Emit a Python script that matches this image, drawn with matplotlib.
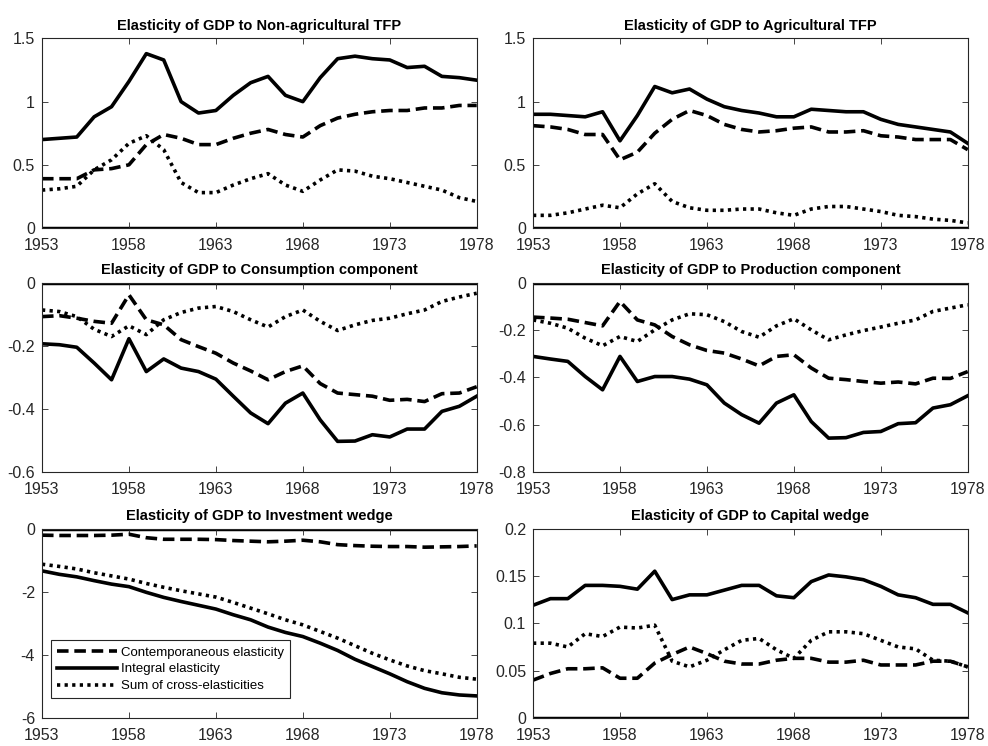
import matplotlib
matplotlib.use("Agg")
import matplotlib.pyplot as plt

plt.rcParams['font.family'] = ['Liberation Sans', 'DejaVu Sans']

years = list(range(1953, 1979))

# Elasticity of GDP to Non-agricultural TFP
nonag_contemp = [0.39, 0.39, 0.39, 0.46, 0.47, 0.50, 0.66, 0.74, 0.71, 0.66, 0.66, 0.71, 0.75,
                 0.78, 0.74, 0.72, 0.81, 0.87, 0.90, 0.92, 0.93, 0.93, 0.95, 0.95, 0.97, 0.97]
nonag_integral = [0.70, 0.71, 0.72, 0.88, 0.96, 1.16, 1.38, 1.33, 1.00, 0.91, 0.93, 1.05, 1.15,
                  1.20, 1.05, 1.00, 1.19, 1.34, 1.36, 1.34, 1.33, 1.27, 1.28, 1.20, 1.19, 1.17]
nonag_cross = [0.30, 0.31, 0.33, 0.46, 0.54, 0.67, 0.73, 0.62, 0.36, 0.28, 0.28, 0.34, 0.39,
               0.43, 0.34, 0.29, 0.38, 0.46, 0.45, 0.41, 0.39, 0.36, 0.33, 0.30, 0.24, 0.21]

# Elasticity of GDP to Agricultural TFP
ag_contemp = [0.81, 0.80, 0.78, 0.74, 0.74, 0.54, 0.60, 0.75, 0.86, 0.93, 0.89, 0.82, 0.78,
              0.76, 0.77, 0.79, 0.80, 0.76, 0.76, 0.77, 0.73, 0.72, 0.70, 0.70, 0.70, 0.62]
ag_integral = [0.90, 0.90, 0.89, 0.88, 0.92, 0.69, 0.89, 1.12, 1.07, 1.10, 1.02, 0.96, 0.93,
               0.91, 0.88, 0.88, 0.94, 0.93, 0.92, 0.92, 0.86, 0.82, 0.80, 0.78, 0.76, 0.67]
ag_cross = [0.10, 0.10, 0.12, 0.15, 0.18, 0.16, 0.27, 0.35, 0.21, 0.16, 0.14, 0.14, 0.15,
            0.15, 0.12, 0.10, 0.15, 0.17, 0.17, 0.15, 0.13, 0.10, 0.09, 0.07, 0.06, 0.04]

# Elasticity of GDP to Consumption component
cons_contemp = [-0.108, -0.105, -0.113, -0.123, -0.129, -0.039, -0.118, -0.134, -0.181, -0.203,
                -0.224, -0.255, -0.280, -0.308, -0.282, -0.264, -0.320, -0.350, -0.355, -0.360,
                -0.373, -0.370, -0.377, -0.352, -0.350, -0.330]
cons_integral = [-0.194, -0.197, -0.205, -0.255, -0.308, -0.178, -0.282, -0.242, -0.271, -0.282,
                 -0.306, -0.360, -0.413, -0.447, -0.382, -0.350, -0.435, -0.503, -0.502, -0.482,
                 -0.489, -0.464, -0.464, -0.408, -0.392, -0.360]
cons_cross = [-0.087, -0.092, -0.108, -0.148, -0.171, -0.137, -0.165, -0.118, -0.095, -0.081,
              -0.076, -0.092, -0.118, -0.141, -0.108, -0.087, -0.123, -0.152, -0.134, -0.120,
              -0.113, -0.099, -0.087, -0.060, -0.046, -0.034]

# Elasticity of GDP to Production component
prod_contemp = [-0.146, -0.150, -0.155, -0.169, -0.183, -0.080, -0.158, -0.179, -0.228, -0.263,
                -0.287, -0.298, -0.323, -0.352, -0.312, -0.305, -0.361, -0.404, -0.410, -0.418,
                -0.425, -0.420, -0.428, -0.404, -0.405, -0.376]
prod_integral = [-0.312, -0.323, -0.333, -0.397, -0.453, -0.312, -0.418, -0.397, -0.397, -0.408,
                 -0.432, -0.509, -0.558, -0.594, -0.509, -0.474, -0.587, -0.657, -0.655, -0.633,
                 -0.629, -0.596, -0.592, -0.530, -0.516, -0.478]
prod_cross = [-0.158, -0.172, -0.193, -0.235, -0.267, -0.228, -0.249, -0.200, -0.158, -0.132,
              -0.136, -0.165, -0.207, -0.231, -0.183, -0.153, -0.200, -0.242, -0.221, -0.203,
              -0.188, -0.172, -0.158, -0.122, -0.108, -0.094]

# Elasticity of GDP to Investment wedge
inv_contemp = [-0.21, -0.22, -0.22, -0.22, -0.21, -0.18, -0.29, -0.34, -0.34, -0.34, -0.35,
               -0.38, -0.40, -0.42, -0.40, -0.37, -0.42, -0.51, -0.54, -0.56, -0.57, -0.57,
               -0.59, -0.58, -0.57, -0.55]
inv_integral = [-1.34, -1.45, -1.53, -1.65, -1.76, -1.84, -2.02, -2.18, -2.31, -2.43, -2.55,
                -2.73, -2.89, -3.12, -3.29, -3.42, -3.63, -3.86, -4.14, -4.37, -4.60, -4.85,
                -5.06, -5.20, -5.27, -5.30]
inv_cross = [-1.13, -1.20, -1.28, -1.40, -1.50, -1.60, -1.74, -1.86, -1.97, -2.07, -2.17,
             -2.34, -2.52, -2.70, -2.89, -3.05, -3.26, -3.47, -3.71, -3.95, -4.16, -4.35,
             -4.50, -4.60, -4.71, -4.77]

# Elasticity of GDP to Capital wedge
cap_contemp = [0.040, 0.047, 0.052, 0.052, 0.053, 0.042, 0.042, 0.058, 0.067, 0.075, 0.068,
               0.060, 0.057, 0.057, 0.061, 0.063, 0.063, 0.059, 0.059, 0.061, 0.056, 0.056,
               0.056, 0.060, 0.060, 0.054]
cap_integral = [0.119, 0.126, 0.126, 0.140, 0.140, 0.139, 0.136, 0.155, 0.125, 0.130, 0.130,
                0.135, 0.140, 0.140, 0.129, 0.127, 0.144, 0.151, 0.149, 0.146, 0.139, 0.130,
                0.127, 0.120, 0.120, 0.111]
cap_cross = [0.079, 0.079, 0.075, 0.089, 0.086, 0.096, 0.095, 0.098, 0.060, 0.054, 0.061,
             0.072, 0.082, 0.084, 0.072, 0.063, 0.082, 0.091, 0.091, 0.089, 0.082, 0.075,
             0.073, 0.061, 0.060, 0.054]

panels = [
    ("Elasticity of GDP to Non-agricultural TFP", nonag_contemp, nonag_integral, nonag_cross,
     (0, 1.5), [0, 0.5, 1, 1.5], ["0", "0.5", "1", "1.5"]),
    ("Elasticity of GDP to Agricultural TFP", ag_contemp, ag_integral, ag_cross,
     (0, 1.5), [0, 0.5, 1, 1.5], ["0", "0.5", "1", "1.5"]),
    ("Elasticity of GDP to Consumption component", cons_contemp, cons_integral, cons_cross,
     (-0.6, 0), [-0.6, -0.4, -0.2, 0], ["-0.6", "-0.4", "-0.2", "0"]),
    ("Elasticity of GDP to Production component", prod_contemp, prod_integral, prod_cross,
     (-0.8, 0), [-0.8, -0.6, -0.4, -0.2, 0], ["-0.8", "-0.6", "-0.4", "-0.2", "0"]),
    ("Elasticity of GDP to Investment wedge", inv_contemp, inv_integral, inv_cross,
     (-6, 0), [-6, -4, -2, 0], ["-6", "-4", "-2", "0"]),
    ("Elasticity of GDP to Capital wedge", cap_contemp, cap_integral, cap_cross,
     (0, 0.2), [0, 0.05, 0.1, 0.15, 0.2], ["0", "0.05", "0.1", "0.15", "0.2"]),
]

# axes rectangles in figure fractions [left, bottom, width, height]
lefts = [0.0425, 0.5395]
bottoms = [0.6944, 0.3673, 0.0375]
width = 0.440
height = 0.2540

fig = plt.figure(figsize=(9.88, 7.46), dpi=100)
frame = "#262626"

for i, (title, contemp, integral, cross, ylim, yticks, ylabels) in enumerate(panels):
    ax = fig.add_axes([lefts[i % 2], bottoms[i // 2], width, height])
    ax.axhline(0, color="black", lw=2.5, zorder=1)
    ax.plot(years, contemp, color="black", lw=2.6, linestyle=(0, (3.2, 1.6)),
            label="Contemporaneous elasticity")
    ax.plot(years, integral, color="black", lw=2.6, linestyle="-",
            label="Integral elasticity")
    ax.plot(years, cross, color="black", lw=2.6, linestyle=(0, (0.9, 1.2)),
            label="Sum of cross-elasticities")
    ax.set_xlim(1953, 1978)
    ax.set_ylim(*ylim)
    ax.set_xticks([1953, 1958, 1963, 1968, 1973, 1978])
    ax.set_yticks(yticks)
    ax.set_yticklabels(ylabels)
    ax.tick_params(direction="in", top=True, right=True, length=4, width=0.6,
                   colors=frame, labelsize=11.5)
    ax.tick_params(axis="x", pad=7)
    ax.tick_params(axis="y", pad=5)
    for sp in ax.spines.values():
        sp.set_color(frame)
        sp.set_linewidth(0.8)
    ax.set_title(title, fontsize=10.5, fontweight="bold", pad=6, color="black")
    if i == 4:
        leg = ax.legend(loc="lower left", bbox_to_anchor=(0.005, 0.07), fontsize=9.5,
                        handlelength=4.6, handletextpad=0.3, borderpad=0.45,
                        labelspacing=0.35, fancybox=False, framealpha=1)
        leg.get_frame().set_edgecolor(frame)
        leg.get_frame().set_linewidth(0.8)

fig.savefig("out.png", dpi=100)
